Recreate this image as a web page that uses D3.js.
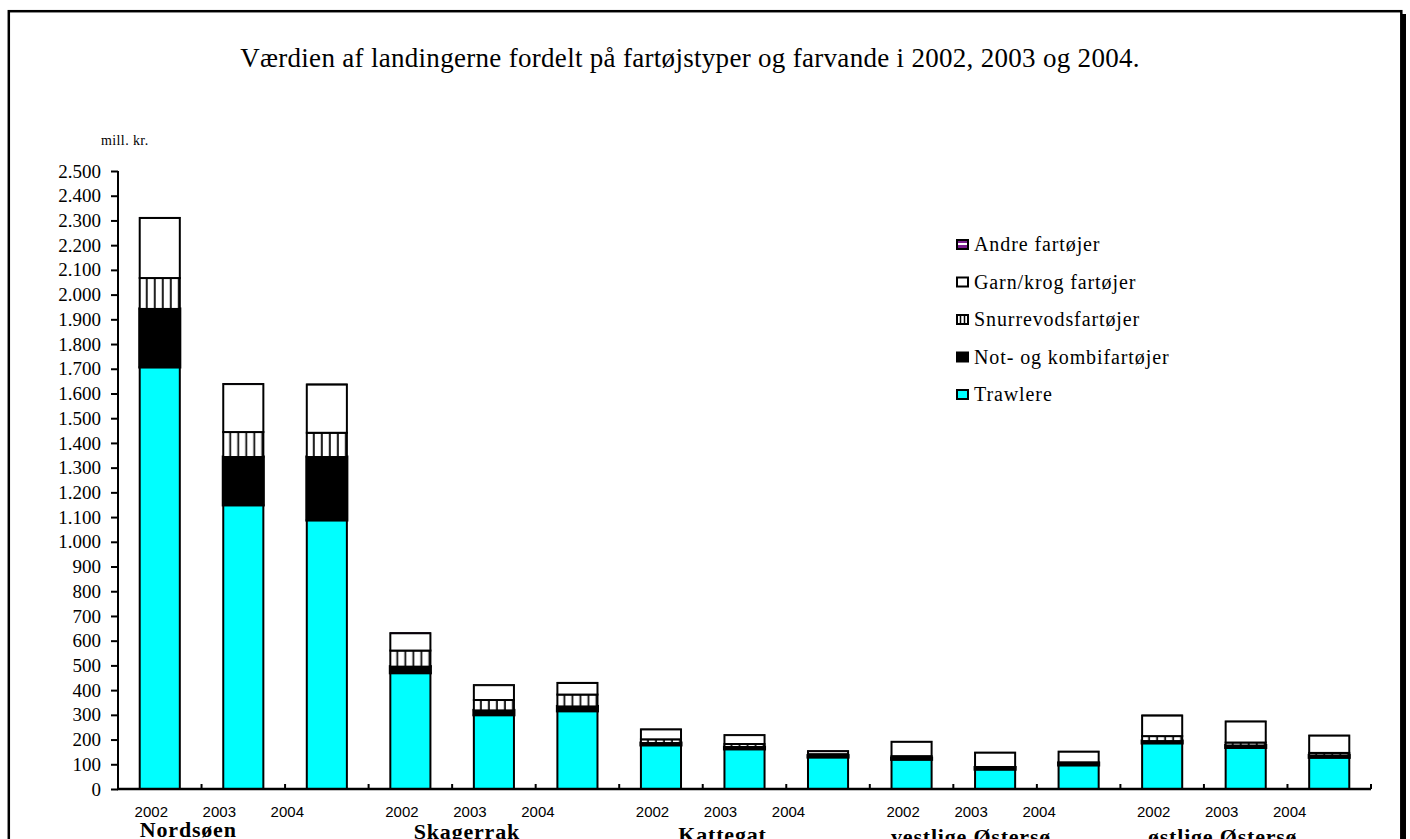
<!DOCTYPE html>
<html>
<head>
<meta charset="utf-8">
<script src="https://cdn.jsdelivr.net/npm/d3@7"></script>
<style>
  body { margin: 0; background: #fff; }
  svg { display: block; }
</style>
</head>
<body>
<div id="chart"></div>
<script>
const regions = ['Nordsøen', 'Skagerrak', 'Kattegat', 'vestlige Østersø', 'østlige Østersø'];
const years = ['2002', '2003', '2004'];
const seriesKeys = ['trawlere', 'notKombi', 'snurrevod', 'garnKrog', 'andre'];
const seriesNames = ['Trawlere', 'Not- og kombifartøjer', 'Snurrevodsfartøjer', 'Garn/krog fartøjer', 'Andre fartøjer'];
const yTicks = d3.range(0, 2501, 100);

// mill. kr., one value per region/year (Nordsøen 2002..2004, Skagerrak 2002..2004, ...)
const trawlere = [1707, 1149, 1088, 470, 300, 316, 178, 162, 129, 120, 80, 97, 186, 168, 128];
const notKombi = [235, 194, 255, 25, 18, 18, 8, 8, 6, 5, 7, 8, 8, 8, 8];
const snurrevod = [125, 101, 98, 65, 42, 48, 15, 12, 6, 8, 2, 3, 20, 12, 10];
const garnKrog = [243, 194, 195, 70, 60, 47, 40, 36, 12, 58, 58, 43, 83, 85, 70];
const andre = [2, 2, 2, 2, 2, 2, 1, 1, 1, 1, 1, 1, 2, 1, 1];

const W = 1410, H = 839;
const plot = { left: 118, right: 1371, top: 171, bottom: 789 };
const serif = "'Liberation Serif', 'Times New Roman', serif";
const sans = "'Liberation Sans', Arial, sans-serif";

const rows = [];
regions.forEach((region, r) => {
  years.forEach((year, i) => {
    const k = r * 3 + i;
    rows.push({
      id: `${region}|${year}`, region, year,
      trawlere: trawlere[k], notKombi: notKombi[k], snurrevod: snurrevod[k],
      garnKrog: garnKrog[k], andre: andre[k]
    });
  });
});

const stacked = d3.stack().keys(seriesKeys)(rows);

const x = d3.scaleBand()
  .domain(rows.map(d => d.id))
  .range([plot.left, plot.right])
  .paddingInner(0.52)
  .paddingOuter(0.26);

const y = d3.scaleLinear().domain([0, 2500]).range([plot.bottom, plot.top]);

const fmt = d3.formatLocale({ decimal: ',', thousands: '.', grouping: [3], currency: ['', ''] }).format(',');

const fills = {
  trawlere: '#00ffff',
  notKombi: '#000000',
  snurrevod: 'url(#hatch)',
  garnKrog: '#ffffff',
  andre: 'url(#andreFill)'
};

const svg = d3.select('#chart').append('svg')
  .attr('width', W)
  .attr('height', H);

const defs = svg.append('defs');

// vertical hatch for Snurrevodsfartøjer
const hatch = defs.append('pattern')
  .attr('id', 'hatch')
  .attr('patternUnits', 'objectBoundingBox')
  .attr('width', 0.2)
  .attr('height', 1);
hatch.append('rect').attr('width', x.bandwidth()).attr('height', 400).attr('fill', '#fff');
hatch.append('rect').attr('x', x.bandwidth() / 5 - 2).attr('width', 2).attr('height', 400).attr('fill', '#222');

const andreP = defs.append('pattern')
  .attr('id', 'andreFill')
  .attr('patternUnits', 'userSpaceOnUse')
  .attr('width', 4)
  .attr('height', 10);
andreP.append('rect').attr('width', 4).attr('height', 10).attr('fill', '#7a1f8f');
andreP.append('rect').attr('y', 4).attr('width', 4).attr('height', 2).attr('fill', '#fff');

// outer frame with shadow on the right
svg.append('rect')
  .attr('x', 1402).attr('y', 14)
  .attr('width', 4).attr('height', H)
  .attr('fill', '#000');
svg.append('rect')
  .attr('x', 8.8).attr('y', 11.2)
  .attr('width', 1392.5).attr('height', H + 20)
  .attr('fill', 'none')
  .attr('stroke', '#000')
  .attr('stroke-width', 2.5);

svg.append('text')
  .attr('x', 690)
  .attr('y', 67)
  .attr('text-anchor', 'middle')
  .attr('font-family', serif)
  .attr('font-size', 27)
  .attr('letter-spacing', 0.3)
  .text('Værdien af landingerne fordelt på fartøjstyper og farvande i 2002, 2003 og 2004.');

svg.append('text')
  .attr('x', 101)
  .attr('y', 145)
  .attr('font-family', serif)
  .attr('font-size', 14)
  .attr('letter-spacing', 0.4)
  .text('mill. kr.');

// y axis
const yAxis = svg.append('g')
  .attr('transform', `translate(${plot.left},0)`)
  .call(d3.axisLeft(y).tickValues(yTicks).tickFormat(fmt).tickSize(7).tickPadding(10));
yAxis.select('.domain').attr('stroke-width', 2).attr('d', `M0,${plot.top}V${plot.bottom}`);
yAxis.selectAll('.tick line').attr('stroke-width', 2);
yAxis.selectAll('.tick text')
  .attr('font-family', serif)
  .attr('font-size', 19)
  .attr('fill', '#000');

// stacked bars
svg.append('g')
  .selectAll('g')
  .data(stacked)
  .join('g')
  .attr('fill', d => fills[d.key])
  .selectAll('rect')
  .data(d => d.map(v => Object.assign(v, { key: d.key })))
  .join('rect')
  .attr('x', d => x(d.data.id))
  .attr('width', x.bandwidth())
  .attr('y', d => y(d[1]))
  .attr('height', d => y(d[0]) - y(d[1]))
  .attr('stroke', '#000')
  .attr('stroke-width', d => d.key === 'notKombi' ? 3 : (d.key === 'andre' ? 1 : 2));

// x axis with inside ticks on the band boundaries
const step = x.step();
const boundaries = rows.map((d, i) => plot.left + step * (i + 1));
const xAxis = svg.append('g');
xAxis.append('line')
  .attr('x1', plot.left - 1).attr('x2', plot.right)
  .attr('y1', plot.bottom).attr('y2', plot.bottom)
  .attr('stroke', '#000').attr('stroke-width', 2.5);
xAxis.selectAll('.xtick')
  .data(boundaries)
  .join('line')
  .attr('class', 'xtick')
  .attr('x1', d => d).attr('x2', d => d)
  .attr('y1', plot.bottom).attr('y2', plot.bottom - 5)
  .attr('stroke', '#000').attr('stroke-width', 2);

// year labels and region names under each group
const regionDx = [-55, -27, -22, -24, -23];
const regionY = [837, 839, 842, 844, 844];
regions.forEach((region, r) => {
  const mid = x(`${region}|2003`) + x.bandwidth() / 2;
  svg.selectAll(null)
    .data(years)
    .join('text')
    .attr('x', (d, i) => mid - 24 + (i - 1) * 68)
    .attr('y', 817)
    .attr('text-anchor', 'middle')
    .attr('font-family', sans)
    .attr('font-size', 15)
    .text(d => d);
  svg.append('text')
    .attr('x', mid + regionDx[r])
    .attr('y', regionY[r])
    .attr('text-anchor', 'middle')
    .attr('font-family', serif)
    .attr('font-weight', 'bold')
    .attr('font-size', 22)
    .attr('letter-spacing', 0.8)
    .text(region);
});

// legend, top to bottom in reverse stacking order
const legendItems = seriesKeys.map((k, i) => ({ key: k, name: seriesNames[i] })).reverse();
const legend = svg.append('g').attr('transform', 'translate(956,239)');
const item = legend.selectAll('g')
  .data(legendItems)
  .join('g')
  .attr('transform', (d, i) => `translate(0,${i * 37.5})`);
item.append('rect')
  .attr('x', 1).attr('y', 1)
  .attr('width', 11).attr('height', 9)
  .attr('fill', d => d.key === 'snurrevod' ? '#fff' : fills[d.key])
  .attr('stroke', '#000')
  .attr('stroke-width', 2);
item.filter(d => d.key === 'snurrevod')
  .selectAll('line')
  .data([4.5, 8.5])
  .join('line')
  .attr('x1', d => d).attr('x2', d => d)
  .attr('y1', 1).attr('y2', 10)
  .attr('stroke', '#000').attr('stroke-width', 1.5);
item.append('text')
  .attr('x', 18)
  .attr('y', 12)
  .attr('font-family', serif)
  .attr('font-size', 20)
  .attr('letter-spacing', 0.9)
  .text(d => d.name);
</script>
</body>
</html>
